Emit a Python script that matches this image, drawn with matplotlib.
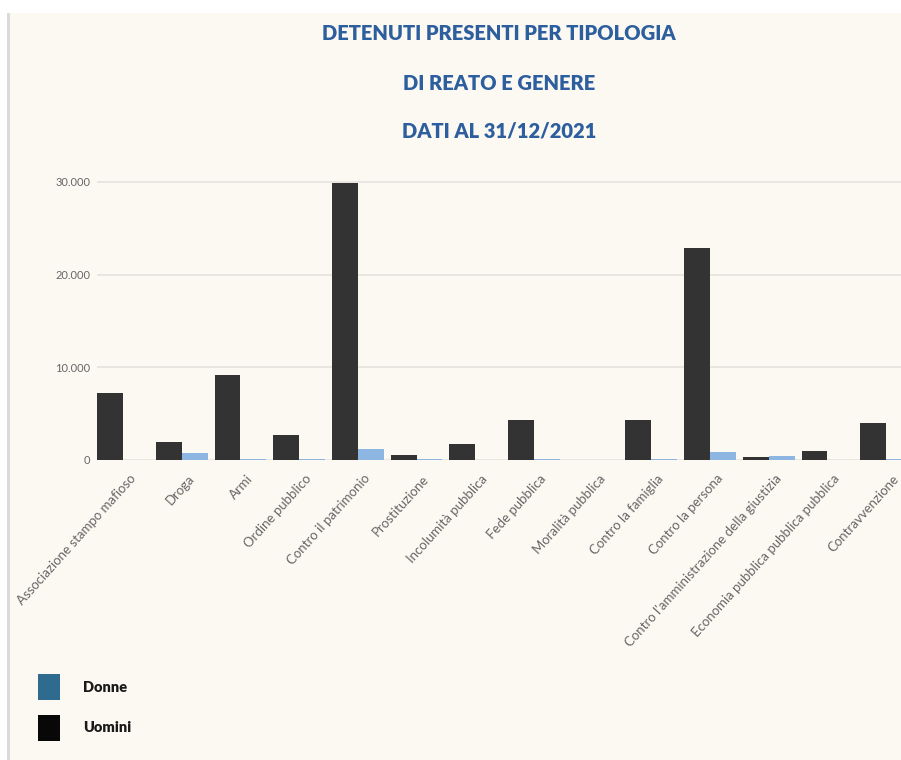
import matplotlib
matplotlib.use("Agg")
import matplotlib.pyplot as plt
from matplotlib.patches import Rectangle
import numpy as np

W, H = 901, 760

categorie = [
    "Associazione stampo mafioso", "Droga", "Armi", "Ordine pubblico",
    "Contro il patrimonio", "Prostituzione", "Incolumità pubblica",
    "Fede pubblica", "Moralità pubblica", "Contro la famiglia",
    "Contro la persona", "Contro l'amministrazione della giustizia",
    "Economia pubblica pubblica pubblica", "Contravvenzione",
]
uomini = [7200, 1900, 9200, 2700, 29900, 500, 1700, 4300, 0, 4300, 22900, 300, 1000, 4000]
donne = [0, 750, 150, 150, 1200, 100, 50, 150, 20, 150, 900, 400, 40, 120]
y_ticks = [0, 10000, 20000, 30000]
y_labels = ["0", "10.000", "20.000", "30.000"]

BG = "#FCF9F3"
TITLE_C = "#2D5E9E"
DARK = "#333333"
LIGHT = "#8DB6E2"

fig = plt.figure(figsize=(W / 100, H / 100), dpi=100, facecolor="white")

# cornice: fondo crema, riga grigia a sinistra, striscia bianca in alto
fig.add_artist(Rectangle((10 / W, 0), 1, (H - 13) / H, transform=fig.transFigure,
                         facecolor=BG, edgecolor="none", zorder=-10))
fig.add_artist(Rectangle((7 / W, 0), 2.5 / W, (H - 13) / H, transform=fig.transFigure,
                         facecolor="#DADADA", edgecolor="none", zorder=-9))

# titolo su tre righe
for yy, riga in zip([33, 83, 131], ["DETENUTI PRESENTI PER TIPOLOGIA",
                                    "DI REATO E GENERE", "DATI AL 31/12/2021"]):
    fig.text(499 / W, 1 - yy / H, riga, ha="center", va="center",
             fontsize=14.5, fontweight="heavy", color=TITLE_C, family="Lato")

# assi: gruppo i centrato a 123 + 58.7*i px, zero a y=460 px, 30.000 a y=182 px
step = 58.7
x_left = -0.44
x_right = 13.5
left_px = 123 + x_left * step
right_px = 123 + x_right * step
y_top = 31000
top_px = 460 - y_top * 278 / 30000
ax = fig.add_axes([left_px / W, (H - 460) / H, (right_px - left_px) / W, (460 - top_px) / H])
ax.set_facecolor("none")

x = np.arange(len(categorie))
bw = 0.44
ax.bar(x - bw / 2, uomini, width=bw, color=DARK, zorder=3)
ax.bar(x + bw / 2, donne, width=bw, color=LIGHT, zorder=3)

ax.set_xlim(x_left, x_right)
ax.set_ylim(0, y_top)
ax.set_yticks(y_ticks)
ax.set_yticklabels(y_labels, fontsize=8, color="#666666", family="Lato")
ax.yaxis.grid(True, color="#E6E3DE", linewidth=1.2, zorder=0)
ax.set_axisbelow(True)
ax.tick_params(axis="both", length=0)
ax.tick_params(axis="y", pad=5)
ax.set_xticks(x + 0.1)
ax.set_xticklabels(categorie, rotation=48, ha="right", rotation_mode="anchor",
                   fontsize=9.5, color="#666666", family="Lato")
ax.tick_params(axis="x", pad=9)
for s in ax.spines.values():
    s.set_visible(False)

# legenda manuale
for yy, col, lab in [(687, "#2F6A8F", "Donne"), (728, "#080808", "Uomini")]:
    fig.add_artist(Rectangle((38 / W, 1 - (yy + 13) / H), 22 / W, 26 / H,
                             transform=fig.transFigure, facecolor=col, edgecolor="none"))
    fig.text(83 / W, 1 - yy / H, lab, ha="left", va="center", fontsize=10.5,
             fontweight="heavy", color="#1A1A1A", family="Lato")

fig.savefig("out.png", dpi=100, facecolor="white")
